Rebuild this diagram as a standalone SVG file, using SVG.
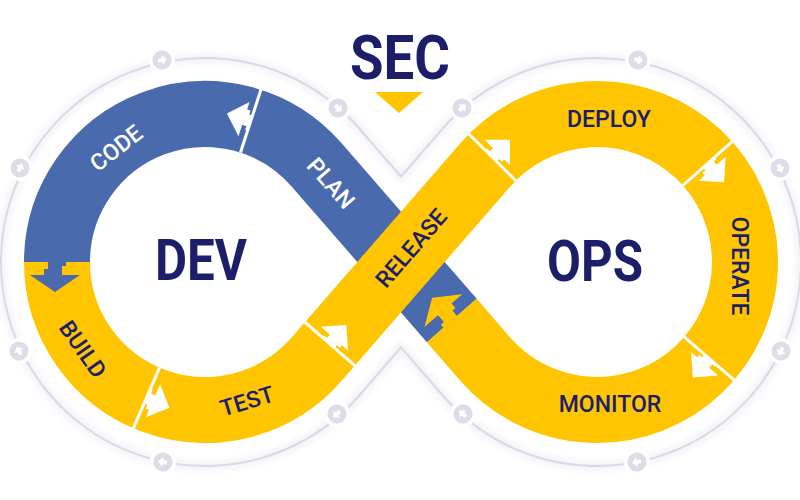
<svg xmlns="http://www.w3.org/2000/svg" xmlns:xlink="http://www.w3.org/1999/xlink" width="800" height="500" viewBox="0 0 800 500">
<style>
.band{fill:none;stroke-width:66;stroke-linecap:butt;stroke-linejoin:round}
.blue{stroke:#4A6AAE}
.yel{stroke:#FFC500}
.sep{stroke:#fff;stroke-width:3}
.lbl{font-family:Roboto,"Liberation Sans",sans-serif;font-weight:500;font-size:23px;text-anchor:middle;fill:#1C1E6A}
.wl{fill:#fff}
.big{font-family:Roboto,"Liberation Sans",sans-serif;font-weight:700;text-anchor:middle;fill:#1C1E6A}
.ring{fill:none;stroke:#D9DAE6;stroke-width:2}
.halo{fill:none;stroke:#EDEEF4;stroke-width:9;opacity:.7}
</style>
<defs>
<filter id="soft" x="-10%" y="-10%" width="120%" height="120%"><feGaussianBlur stdDeviation="3"/></filter>
<g id="dot"><circle r="13" fill="#fff"/><circle r="9.5" fill="#DCDDE8"/><path d="M-4,-2 H0 V-5 L5,0 L0,5 V2 H-4 Z" fill="#fff"/></g>
<path id="warrow" d="M0,-10 H2.5 V-6 H7 V-18 L25,0 L7,18 V10 H3.5 V6 H0 Z" fill="#fff"/>
<path id="barrow" d="M0,-11 H4 V-7 H13 V-25 L30,0 L13,25 V11 H7 V7 H0 Z"/>
<g id="sepw"><line class="sep" x1="0" y1="-33" x2="0" y2="33"/><use href="#warrow"/></g>
</defs>
<rect width="800" height="500" fill="#fff"/>
<g id="outer-ring">
<path class="halo" filter="url(#soft)" d="M359.04,128.28 L401,176.6 L442.96,128.28 A204,204 0 1,1 442.96,395.72 L401,347.4 L359.04,395.72 A204,204 0 1,1 359.04,128.28 Z"/>
<path class="ring" d="M359.04,128.28 L401,176.6 L442.96,128.28 A204,204 0 1,1 442.96,395.72 L401,347.4 L359.04,395.72 A204,204 0 1,1 359.04,128.28 Z"/>
<g id="ring-dots">
<use href="#dot" transform="translate(162,60) rotate(-12)"/>
<use href="#dot" transform="translate(338,108) rotate(41)"/>
<use href="#dot" transform="translate(20,168) rotate(-63)"/>
<use href="#dot" transform="translate(19,351) rotate(-116)"/>
<use href="#dot" transform="translate(163,462) rotate(192)"/>
<use href="#dot" transform="translate(337,414) rotate(139)"/>
<use href="#dot" transform="translate(462,108) rotate(-41)"/>
<use href="#dot" transform="translate(638,60) rotate(12)"/>
<use href="#dot" transform="translate(780,168) rotate(63)"/>
<use href="#dot" transform="translate(781,351) rotate(117)"/>
<use href="#dot" transform="translate(637,462) rotate(168)"/>
<use href="#dot" transform="translate(463,414) rotate(221)"/>
</g>
</g>
<g id="band">
<path id="band-dev-blue" class="band blue" d="M57,262 A148,148 0 0,1 316.75,164.99 L451.8,320.5"/>
<path id="band-yellow" class="band yel" d="M57,262 A148,148 0 0,0 316.75,359.01 L485.25,164.99 A148,148 0 1,1 485.25,359.01 L451.8,320.5"/>
</g>
<g id="connectors">
<use href="#sepw" transform="translate(250.7,121.2) rotate(-162)"/>
<use href="#barrow" fill="#4A6AAE" transform="translate(55,262) rotate(90)"/>
<use href="#sepw" transform="translate(146.5,397.9) rotate(23.3)"/>
<use href="#sepw" transform="translate(329.9,343.9) rotate(-49)"/>
<use href="#sepw" transform="translate(492.35,157.35) rotate(-45)"/>
<use href="#sepw" transform="translate(707.5,163.55) rotate(48.3)"/>
<use href="#sepw" transform="translate(709.2,358.5) rotate(130.7)"/>
<use href="#barrow" fill="#FFC500" transform="translate(451.8,320.5) rotate(-131)"/>
</g>
<g id="node-code"><text class="lbl wl" transform="translate(116,148) rotate(-38)" dy="0.355em">CODE</text></g>
<g id="node-plan"><text class="lbl wl" transform="translate(331,183) rotate(49)" dy="0.355em">PLAN</text></g>
<g id="node-build"><text class="lbl" transform="translate(83,349) rotate(55)" dy="0.355em">BUILD</text></g>
<g id="node-test"><text class="lbl" transform="translate(247,401) rotate(-17)" dy="0.355em">TEST</text></g>
<g id="node-release"><text class="lbl" transform="translate(411,248) rotate(-49)" dy="0.355em">RELEASE</text></g>
<g id="node-deploy"><text class="lbl" transform="translate(609,119)" dy="0.355em">DEPLOY</text></g>
<g id="node-operate"><text class="lbl" transform="translate(740,266) rotate(90)" dy="0.355em">OPERATE</text></g>
<g id="node-monitor"><text class="lbl" transform="translate(610,404)" dy="0.355em">MONITOR</text></g>
<g id="node-dev"><text class="big" x="201" y="280" font-size="58" textLength="92" lengthAdjust="spacingAndGlyphs">DEV</text></g>
<g id="node-ops"><text class="big" x="595" y="281" font-size="58" textLength="96" lengthAdjust="spacingAndGlyphs">OPS</text></g>
<g id="node-sec"><text class="big" x="400" y="79" font-size="62" textLength="100" lengthAdjust="spacingAndGlyphs">SEC</text>
<path d="M375,92 H423 L399,113 Z" fill="#FFC500"/></g>
</svg>
